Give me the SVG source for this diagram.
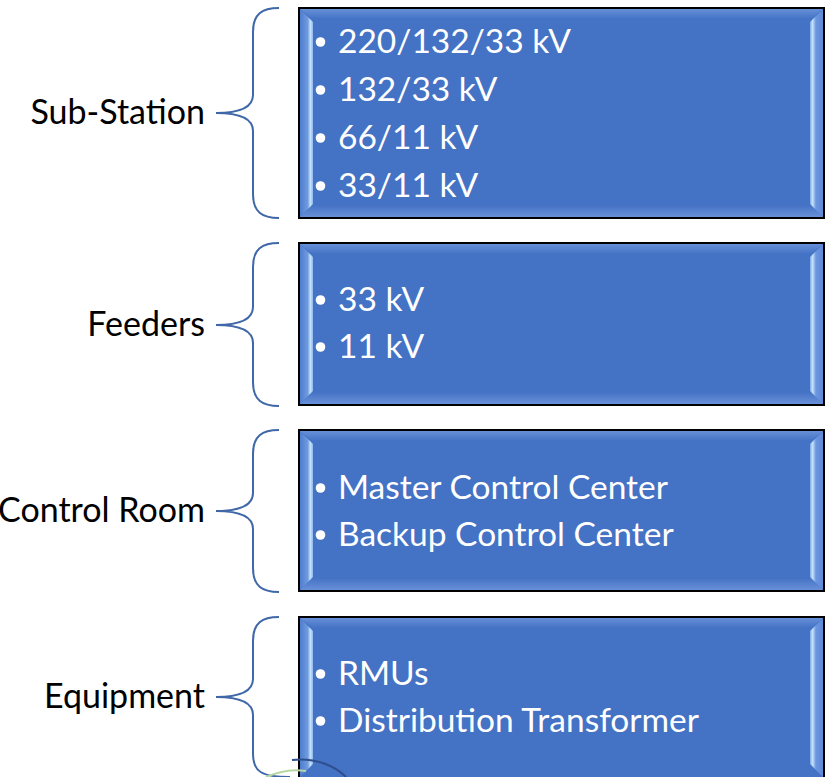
<svg xmlns="http://www.w3.org/2000/svg" width="828" height="777" viewBox="0 0 828 777">
  <defs>
    <linearGradient id="gl" x1="0" y1="0" x2="1" y2="0">
      <stop offset="0" stop-color="#4F7DCC"/>
      <stop offset="0.6" stop-color="#6F9BE0"/>
      <stop offset="0.8" stop-color="#C6E3FD"/>
      <stop offset="1" stop-color="#8FB6EC"/>
    </linearGradient>
    <linearGradient id="gr" x1="1" y1="0" x2="0" y2="0">
      <stop offset="0" stop-color="#5D89D6"/>
      <stop offset="0.55" stop-color="#6C97DE"/>
      <stop offset="0.8" stop-color="#C6E3FD"/>
      <stop offset="1" stop-color="#7FA9E8"/>
    </linearGradient>
    <linearGradient id="gt" x1="0" y1="0" x2="0" y2="1">
      <stop offset="0" stop-color="#6690D8"/>
      <stop offset="1" stop-color="#4472C4"/>
    </linearGradient>
    <linearGradient id="gb" x1="0" y1="1" x2="0" y2="0">
      <stop offset="0" stop-color="#6890D8"/>
      <stop offset="1" stop-color="#4472C4"/>
    </linearGradient>
  </defs>
  <style>
    .box { fill: #4472C4; stroke: #000; stroke-width: 2; }
    .bt { fill: #FFFFFF; font-family: Lato, "Liberation Sans", sans-serif; font-size: 33.5px; }
    .lbl { fill: #000; font-family: Lato, "Liberation Sans", sans-serif; font-size: 34px; text-anchor: end; }
    .brace { fill: none; stroke: #4068A8; stroke-width: 2; }
    .dot { fill: #FFFFFF; }
  </style>
  <rect width="828" height="777" fill="#FFFFFF"/>

  <g id="connectors">
    <path class="brace" d="M279,8 C262,8 253,14 253,32 L253,95 C253,107 242,113 216,113 C242,113 253,119 253,131 L253,194 C253,212 262,218 279,218"/>
    <path class="brace" d="M279,243 C262,243 253,249 253,267 L253,307 C253,319 242,325 216,325 C242,325 253,331 253,343 L253,382 C253,400 262,406 279,406"/>
    <path class="brace" d="M279,430 C262,430 253,436 253,454 L253,493 C253,505 242,511 216,511 C242,511 253,517 253,529 L253,568 C253,586 262,592 279,592"/>
    <path class="brace" d="M279,617 C262,617 253,623 253,641 L253,679 C253,691 242,697 216,697 C242,697 253,703 253,715 L253,754 C253,772 262,777 290,777"/>
  </g>

  <g id="substation">
    <text class="lbl" x="205" y="124">Sub-Station</text>
    <rect class="box" x="299" y="8" width="525" height="210"/>
    <path d="M300,9 L823,9 L811,19 L312,19 Z" fill="url(#gt)"/>
    <path d="M300,217 L823,217 L811,205 L312,205 Z" fill="url(#gb)"/>
    <path d="M300,9 L313,22 L313,204 L300,217 Z" fill="url(#gl)"/>
    <path d="M823,9 L810,22 L810,204 L823,217 Z" fill="url(#gr)"/>
    <circle class="dot" cx="320.5" cy="42" r="4.8"/>
    <text class="bt" x="338" y="53">220/132/33 kV</text>
    <circle class="dot" cx="320.5" cy="90" r="4.8"/>
    <text class="bt" x="338" y="101">132/33 kV</text>
    <circle class="dot" cx="320.5" cy="138" r="4.8"/>
    <text class="bt" x="338" y="149">66/11 kV</text>
    <circle class="dot" cx="320.5" cy="186" r="4.8"/>
    <text class="bt" x="338" y="197">33/11 kV</text>
  </g>

  <g id="feeders">
    <text class="lbl" x="205" y="336">Feeders</text>
    <rect class="box" x="299" y="243" width="525" height="162"/>
    <path d="M300,244 L823,244 L811,254 L312,254 Z" fill="url(#gt)"/>
    <path d="M300,404 L823,404 L811,392 L312,392 Z" fill="url(#gb)"/>
    <path d="M300,244 L313,257 L313,391 L300,404 Z" fill="url(#gl)"/>
    <path d="M823,244 L810,257 L810,391 L823,404 Z" fill="url(#gr)"/>
    <circle class="dot" cx="320.5" cy="300" r="4.8"/>
    <text class="bt" x="338" y="311">33 kV</text>
    <circle class="dot" cx="320.5" cy="347" r="4.8"/>
    <text class="bt" x="338" y="358">11 kV</text>
  </g>

  <g id="controlroom">
    <text class="lbl" x="205" y="522">Control Room</text>
    <rect class="box" x="299" y="430" width="525" height="161"/>
    <path d="M300,431 L823,431 L811,441 L312,441 Z" fill="url(#gt)"/>
    <path d="M300,590 L823,590 L811,578 L312,578 Z" fill="url(#gb)"/>
    <path d="M300,431 L313,444 L313,577 L300,590 Z" fill="url(#gl)"/>
    <path d="M823,431 L810,444 L810,577 L823,590 Z" fill="url(#gr)"/>
    <circle class="dot" cx="320.5" cy="488" r="4.8"/>
    <text class="bt" x="338" y="499">Master Control Center</text>
    <circle class="dot" cx="320.5" cy="535" r="4.8"/>
    <text class="bt" x="338" y="546">Backup Control Center</text>
  </g>

  <g id="equipment">
    <text class="lbl" x="205" y="708">Equipment</text>
    <rect class="box" x="299" y="617" width="525" height="175"/>
    <path d="M300,618 L823,618 L811,628 L312,628 Z" fill="url(#gt)"/>
    <path d="M300,618 L313,631 L313,764 L300,777 Z" fill="url(#gl)"/>
    <path d="M823,618 L810,631 L810,764 L823,777 Z" fill="url(#gr)"/>
    <circle class="dot" cx="320.5" cy="674" r="4.8"/>
    <text class="bt" x="338" y="685">RMUs</text>
    <circle class="dot" cx="320.5" cy="721" r="4.8"/>
    <text class="bt" x="338" y="732">Distribution Transformer</text>
  </g>

  <g id="artifact">
    <path d="M292,760 C315,757 335,766 346,777" fill="none" stroke="#2E4E8E" stroke-width="2"/>
    <path d="M266,777 C280,771 295,769 306,771" fill="none" stroke="#B5D6A0" stroke-width="2"/>
  </g>
</svg>
